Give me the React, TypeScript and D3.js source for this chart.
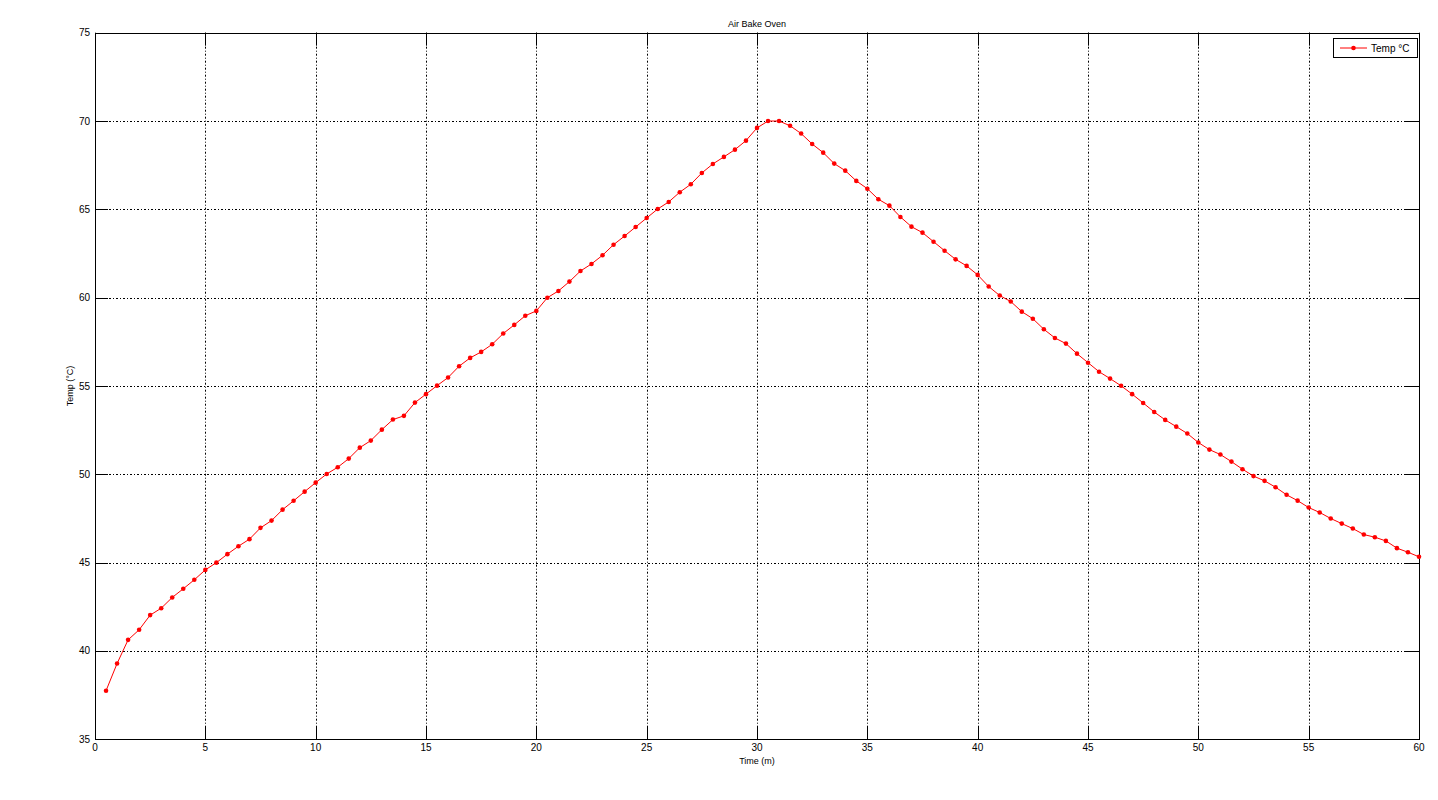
import React, { useRef, useEffect } from 'react';
import * as d3 from 'd3';

// sample times (minutes)
const times = [
  0.5, 1, 1.5, 2, 2.5, 3, 3.5, 4, 4.5, 5, 5.5, 6, 6.5, 7, 7.5, 8, 8.5, 9, 9.5, 10,
  10.5, 11, 11.5, 12, 12.5, 13, 13.5, 14, 14.5, 15, 15.5, 16, 16.5, 17, 17.5, 18, 18.5, 19, 19.5, 20,
  20.5, 21, 21.5, 22, 22.5, 23, 23.5, 24, 24.5, 25, 25.5, 26, 26.5, 27, 27.5, 28, 28.5, 29, 29.5, 30,
  30.5, 31, 31.5, 32, 32.5, 33, 33.5, 34, 34.5, 35, 35.5, 36, 36.5, 37, 37.5, 38, 38.5, 39, 39.5, 40,
  40.5, 41, 41.5, 42, 42.5, 43, 43.5, 44, 44.5, 45, 45.5, 46, 46.5, 47, 47.5, 48, 48.5, 49, 49.5, 50,
  50.5, 51, 51.5, 52, 52.5, 53, 53.5, 54, 54.5, 55, 55.5, 56, 56.5, 57, 57.5, 58, 58.5, 59, 59.5, 60,
];

// temperature readings (°C)
const temps = [
  37.75, 39.29, 40.63, 41.2, 42.03, 42.42, 43.03, 43.52, 44.03, 44.59,
  45.0, 45.48, 45.93, 46.33, 46.97, 47.38, 48.0, 48.5, 49.02, 49.53,
  50.02, 50.4, 50.89, 51.51, 51.91, 52.53, 53.1, 53.31, 54.06, 54.54,
  55.02, 55.48, 56.12, 56.59, 56.93, 57.36, 57.97, 58.46, 58.98, 59.25,
  60.0, 60.38, 60.91, 61.51, 61.91, 62.4, 63.0, 63.49, 64.0, 64.51,
  65.02, 65.42, 65.97, 66.42, 67.06, 67.57, 67.97, 68.38, 68.89, 69.61,
  70.0, 70.0, 69.73, 69.29, 68.7, 68.21, 67.59, 67.19, 66.61, 66.17,
  65.57, 65.21, 64.57, 64.02, 63.68, 63.17, 62.66, 62.17, 61.8, 61.29,
  60.63, 60.12, 59.78, 59.21, 58.81, 58.21, 57.72, 57.4, 56.83, 56.32,
  55.81, 55.42, 55.01, 54.54, 54.04, 53.53, 53.08, 52.7, 52.31, 51.8,
  51.4, 51.12, 50.72, 50.29, 49.9, 49.63, 49.27, 48.84, 48.51, 48.12,
  47.84, 47.5, 47.21, 46.93, 46.59, 46.44, 46.23, 45.82, 45.59, 45.33,
];

const xTicks = [0, 5, 10, 15, 20, 25, 30, 35, 40, 45, 50, 55, 60];
const yTicks = [35, 40, 45, 50, 55, 60, 65, 70, 75];

const App = () => {
  const chartRef = useRef<SVGSVGElement | null>(null);

  useEffect(() => {
    const width = 1438;
    const height = 800;
    const left = 95, right = 1419, top = 32.7, bottom = 739.3;
    const tickLen = 13;
    const font = 'Liberation Sans, Arial, sans-serif';

    const svg = d3.select(chartRef.current);
    svg.selectAll('*').remove();
    svg.attr('width', width).attr('height', height);

    svg.append('rect').attr('width', width).attr('height', height).attr('fill', 'white');

    const x = d3.scaleLinear().domain([0, 60]).range([left, right]);
    const y = d3.scaleLinear().domain([35, 75]).range([bottom, top]);

    // grid (matlab-ish dash-dot)
    const grid = svg.append('g')
      .attr('stroke', 'black')
      .attr('stroke-width', 1)
      .attr('stroke-dasharray', '2,2,1,2');
    grid.selectAll('line.vx')
      .data(xTicks.slice(1, -1))
      .join('line')
      .attr('x1', d => Math.round(x(d)) + 0.5)
      .attr('x2', d => Math.round(x(d)) + 0.5)
      .attr('y1', top)
      .attr('y2', bottom);
    grid.selectAll('line.hy')
      .data(yTicks.slice(1, -1))
      .join('line')
      .attr('class', 'hy')
      .attr('x1', left)
      .attr('x2', right)
      .attr('y1', d => Math.round(y(d)) + 0.5)
      .attr('y2', d => Math.round(y(d)) + 0.5);

    // ticks on all four sides, pointing inward
    const ticks = svg.append('g').attr('stroke', 'black').attr('stroke-width', 1);
    xTicks.forEach(t => {
      const px = Math.round(x(t)) + 0.5;
      ticks.append('line').attr('x1', px).attr('x2', px).attr('y1', bottom).attr('y2', bottom - tickLen);
      ticks.append('line').attr('x1', px).attr('x2', px).attr('y1', top).attr('y2', top + tickLen);
    });
    yTicks.forEach(t => {
      const py = Math.round(y(t)) + 0.5;
      ticks.append('line').attr('x1', left).attr('x2', left + tickLen).attr('y1', py).attr('y2', py);
      ticks.append('line').attr('x1', right).attr('x2', right - tickLen).attr('y1', py).attr('y2', py);
    });

    // frame
    svg.append('rect')
      .attr('x', left + 0.5)
      .attr('y', Math.round(top) + 0.5)
      .attr('width', right - left)
      .attr('height', Math.round(bottom) - Math.round(top))
      .attr('fill', 'none')
      .attr('stroke', 'black');

    // tick labels
    svg.append('g')
      .selectAll('text')
      .data(xTicks)
      .join('text')
      .attr('x', d => x(d))
      .attr('y', bottom + 12)
      .attr('text-anchor', 'middle')
      .style('font-family', font)
      .style('font-size', '10px')
      .text(d => d);
    svg.append('g')
      .selectAll('text')
      .data(yTicks)
      .join('text')
      .attr('x', left - 5)
      .attr('y', d => y(d) + 3.5)
      .attr('text-anchor', 'end')
      .style('font-family', font)
      .style('font-size', '10px')
      .text(d => d);

    // title and axis labels
    svg.append('text')
      .attr('x', (left + right) / 2)
      .attr('y', 27)
      .attr('text-anchor', 'middle')
      .style('font-family', font)
      .style('font-size', '9px')
      .text('Air Bake Oven');
    svg.append('text')
      .attr('x', (left + right) / 2)
      .attr('y', 764)
      .attr('text-anchor', 'middle')
      .style('font-family', font)
      .style('font-size', '9px')
      .text('Time (m)');
    svg.append('text')
      .attr('transform', `translate(73, ${(top + bottom) / 2}) rotate(-90)`)
      .attr('text-anchor', 'middle')
      .style('font-family', font)
      .style('font-size', '9px')
      .text('Temp (°C)');

    // series
    const pts = times.map((t, i) => [t, temps[i]] as [number, number]);
    const line = d3.line<[number, number]>()
      .x(d => x(d[0]))
      .y(d => y(d[1]));
    svg.append('path')
      .datum(pts)
      .attr('d', line)
      .attr('fill', 'none')
      .attr('stroke', 'red')
      .attr('stroke-width', 1);
    svg.append('g')
      .selectAll('circle')
      .data(pts)
      .join('circle')
      .attr('cx', d => x(d[0]))
      .attr('cy', d => y(d[1]))
      .attr('r', 2.3)
      .attr('fill', 'red');

    // legend
    const lg = svg.append('g');
    lg.append('rect')
      .attr('x', 1333.5)
      .attr('y', 38.5)
      .attr('width', 84)
      .attr('height', 19)
      .attr('fill', 'white')
      .attr('stroke', 'black');
    lg.append('line')
      .attr('x1', 1340).attr('x2', 1367)
      .attr('y1', 48).attr('y2', 48)
      .attr('stroke', 'red');
    lg.append('circle')
      .attr('cx', 1353.5).attr('cy', 48).attr('r', 2.3).attr('fill', 'red');
    lg.append('text')
      .attr('x', 1371)
      .attr('y', 51.5)
      .style('font-family', font)
      .style('font-size', '10px')
      .text('Temp °C');
  }, []);

  return (
    <div style={{ position: 'absolute', left: 0, top: 0 }}>
      <svg ref={chartRef}></svg>
    </div>
  );
};

export default App;
